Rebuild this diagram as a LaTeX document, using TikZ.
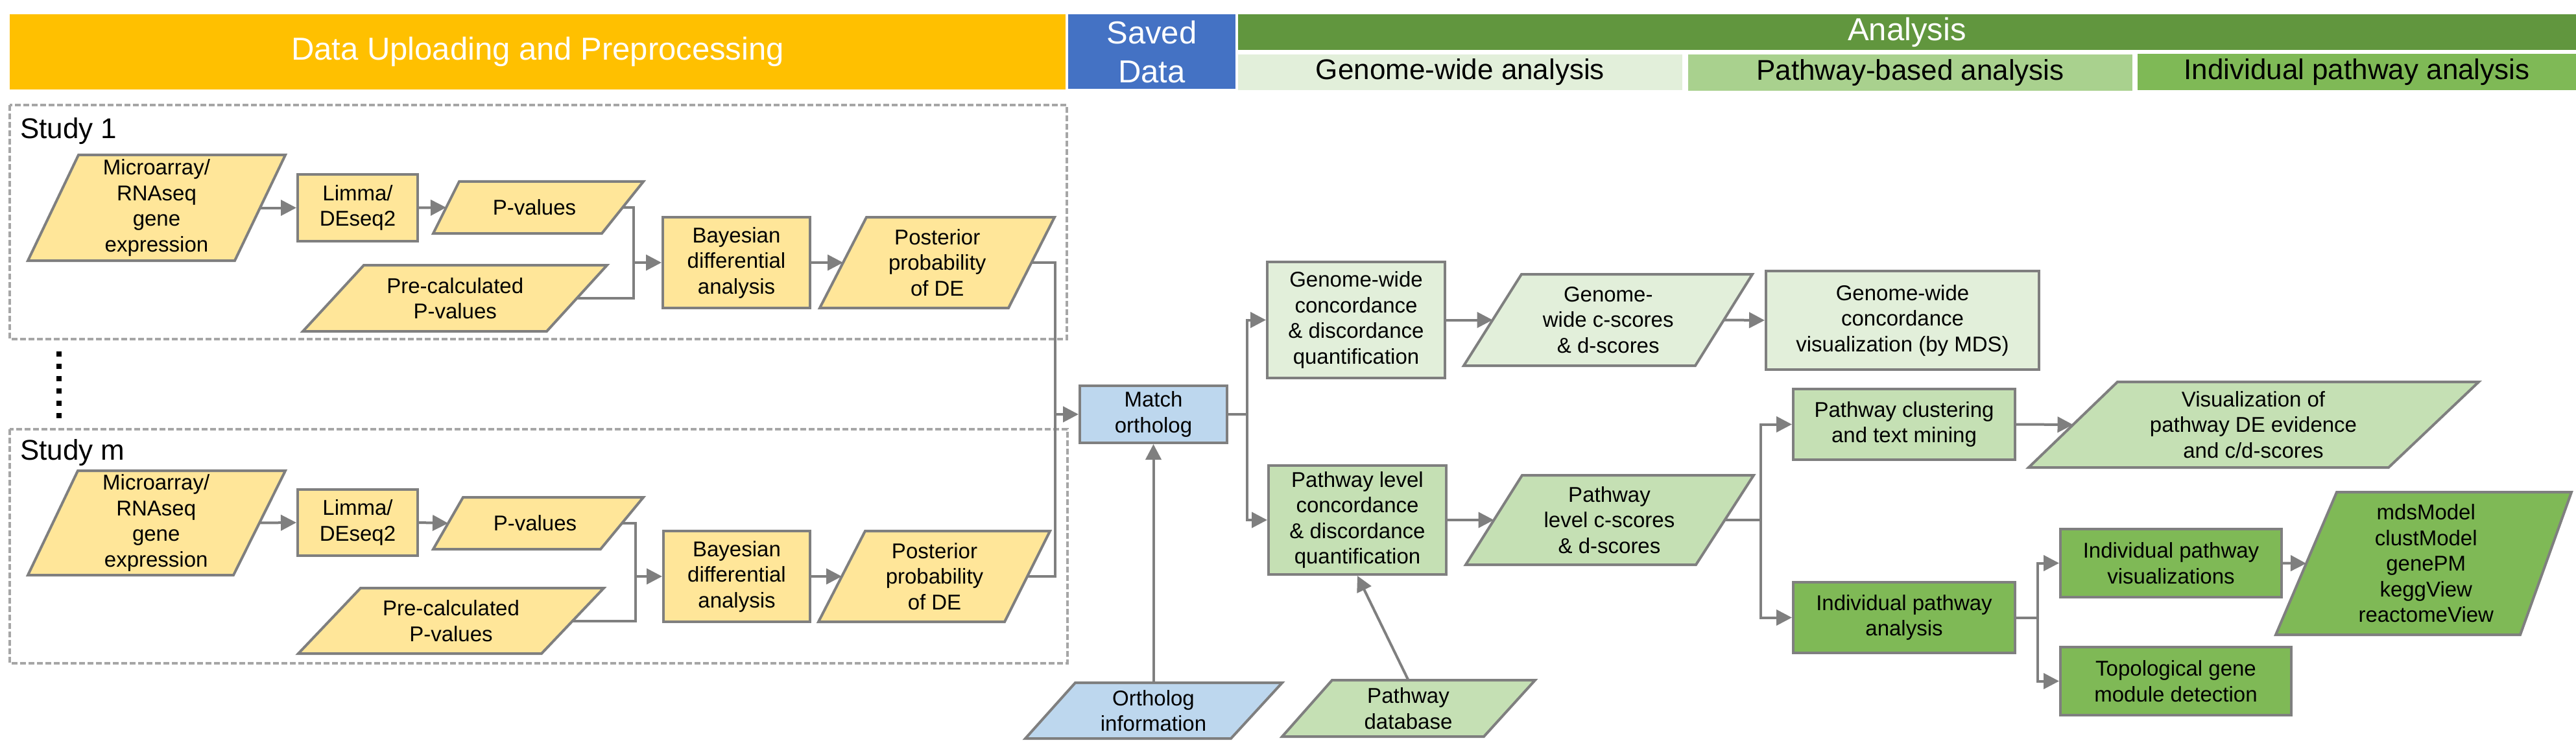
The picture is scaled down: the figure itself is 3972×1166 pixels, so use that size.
\documentclass[tikz,border=0pt]{standalone}
\usepackage{fontspec}
\setmainfont{Liberation Sans}
\usetikzlibrary{calc,backgrounds,arrows.meta}
\definecolor{hdrgold}{HTML}{FFC000}
\definecolor{hdrblue}{HTML}{4472C4}
\definecolor{hdrgreen}{HTML}{61963E}
\definecolor{subgw}{HTML}{E2EFDA}
\definecolor{subpw}{HTML}{A9D18E}
\definecolor{subip}{HTML}{7FB956}
\definecolor{fillyel}{HTML}{FFE699}
\definecolor{fillblue}{HTML}{BDD7EE}
\definecolor{fillgw}{HTML}{E2EFDA}
\definecolor{fillpw}{HTML}{C5E0B4}
\definecolor{fillip}{HTML}{7FB956}
\definecolor{edgegray}{HTML}{7F7F7F}
\definecolor{dashgray}{HTML}{A6A6A6}
\newcommand\myNodeFont{\fontsize{33}{39.5}\selectfont}
\newcommand\myHdrFont{\fontsize{49}{60}\selectfont}
\newcommand\mySubFont{\fontsize{44}{52}\selectfont}
\newcommand\pgram[4]{%
  \draw[draw=edgegray, line width=4pt, fill=#4, line join=miter]
    ($(#1.north west)+(#2/2,0)$) -- ($(#1.north east)+(#3/2,0)$) --
    ($(#1.south east)-(#3/2,0)$) -- ($(#1.south west)-(#2/2,0)$) -- cycle;}
\tikzset{
  boxnode/.style n args={3}{draw=edgegray, line width=4pt, fill=#3,
    minimum width=#1, minimum height=#2, inner sep=0pt, align=center,
    font=\myNodeFont, text=black},
  paranode/.style n args={2}{draw=none, minimum width=#1, minimum height=#2,
    inner sep=0pt, outer sep=0pt, align=center, font=\myNodeFont, text=black},
  hdrnode/.style={draw=none, inner sep=0pt, align=center, font=\myHdrFont, text=white},
  subnode/.style={draw=none, inner sep=0pt, align=center, font=\mySubFont, text=black},
  studylabel/.style={inner sep=0pt, font=\mySubFont, text=black, anchor=base west},
  studybox/.style={draw=dashgray, line width=3.5pt, dash pattern=on 9pt off 4pt},
  conn/.style={draw=edgegray, line width=4pt},
  arr/.style={conn, -{Triangle[length=24pt,width=24pt]}},
}
\begin{document}
\begin{tikzpicture}[x=1pt, y=-1pt]
\useasboundingbox (0,0) rectangle (3972,1166);

% headers
\node[hdrnode, fill=hdrgold, minimum width=1628pt, minimum height=116pt] (hdata) at (829,80) {Data Uploading and Preprocessing};
\node[hdrnode, fill=hdrblue, minimum width=258pt, minimum height=115pt] (hsaved) at (1776,79.5) {Saved\\Data};
\node[hdrnode, fill=hdrgreen, minimum width=2063pt, minimum height=55pt] (hanal) at (2940.5,49.5) {Analysis};
\node[subnode, fill=subgw, minimum width=685pt, minimum height=55pt] (hgw) at (2251.5,111.5) {Genome-wide analysis};
\node[subnode, fill=subpw, minimum width=685pt, minimum height=56pt] (hpw) at (2945.5,112) {Pathway-based analysis};
\node[subnode, fill=subip, minimum width=676pt, minimum height=56pt] (hip) at (3634,111) {Individual pathway analysis};

% study frames
\draw[studybox] (15,162) rectangle (1645,523);
\draw[studybox] (15,662) rectangle (1646,1023);
\node[studylabel] (s1) at (31,214) {Study 1};
\node[studylabel] (sm) at (31,709) {Study m};
\draw[line width=8pt, dash pattern=on 8pt off 11pt] (91,542) -- (91,646);

% study 1
\node[paranode={319pt}{163pt}] (micro1) at (241.5,320.5) {Microarray/\\RNAseq\\gene\\expression};
\node[boxnode={185pt}{103pt}{fillyel}] (limma1) at (551.5,320.5) {Limma/\\DEseq2};
\node[paranode={272pt}{80pt}] (pval1) at (824,320) {P-values};
\node[paranode={375.5pt}{102pt}] (precalc1) at (701.75,460) {Pre-calculated\\P-values};
\node[boxnode={227pt}{140pt}{fillyel}] (bayes1) at (1135.5,405) {Bayesian\\differential\\analysis};
\node[paranode={290.5pt}{140pt}] (post1) at (1445.25,405) {Posterior\\probability\\of DE};

% study m
\node[paranode={318.5pt}{161pt}] (micro2) at (240.75,806.5) {Microarray/\\RNAseq\\gene\\expression};
\node[boxnode={185pt}{102pt}{fillyel}] (limma2) at (551.5,806) {Limma/\\DEseq2};
\node[paranode={268pt}{80pt}] (pval2) at (825,807) {P-values};
\node[paranode={375pt}{101pt}] (precalc2) at (695.5,957.5) {Pre-calculated\\P-values};
\node[boxnode={226pt}{140pt}{fillyel}] (bayes2) at (1136,889) {Bayesian\\differential\\analysis};
\node[paranode={286pt}{140pt}] (post2) at (1441,889) {Posterior\\probability\\of DE};

% saved data
\node[boxnode={227pt}{88pt}{fillblue}] (match) at (1778.5,639) {Match\\ortholog};
\node[paranode={318pt}{86pt}] (ortholog) at (1778.5,1096) {Ortholog\\information};

% analysis
\node[boxnode={274pt}{179pt}{fillgw}] (GWconc) at (2091,493.5) {Genome-wide\\concordance\\\& discordance\\quantification};
\node[paranode={356.5pt}{141pt}] (GWscore) at (2479.75,493.5) {Genome-\\wide c-scores\\\& d-scores};
\node[boxnode={421pt}{152pt}{fillgw}] (GWvis) at (2933.5,494) {Genome-wide\\concordance\\visualization (by MDS)};
\node[boxnode={274pt}{168pt}{fillpw}] (PLconc) at (2093,802) {Pathway level\\concordance\\\& discordance\\quantification};
\node[paranode={356pt}{138pt}] (PLscore) at (2481.5,802) {Pathway\\level c-scores\\\& d-scores};
\node[paranode={312pt}{87pt}] (PWdb) at (2171.5,1092.5) {Pathway\\database};
\node[boxnode={342pt}{109pt}{fillpw}] (clust) at (2936,654.5) {Pathway clustering\\and text mining};
\node[paranode={556pt}{132pt}] (visDE) at (3474.5,655) {Visualization of\\pathway DE evidence\\and c/d-scores};
\node[boxnode={342pt}{109pt}{fillip}] (IPA) at (2936,952.5) {Individual pathway\\analysis};
\node[boxnode={341pt}{105pt}{fillip}] (IPV) at (3347.5,868.5) {Individual pathway\\visualizations};
\node[boxnode={356pt}{105pt}{fillip}] (topo) at (3355,1050.5) {Topological gene\\module detection};
\node[paranode={369.5pt}{220pt}] (mds) at (3740.75,869) {mdsModel\\clustModel\\genePM\\keggView\\reactomeView};

% parallelogram outlines
\begin{scope}[on background layer]
\pgram{micro1}{78}{78}{fillyel}
\pgram{pval1}{40}{64}{fillyel}
\pgram{precalc1}{94}{93}{fillyel}
\pgram{post1}{72}{71}{fillyel}
\pgram{micro2}{77}{80}{fillyel}
\pgram{pval2}{46}{66}{fillyel}
\pgram{precalc2}{96}{96}{fillyel}
\pgram{post2}{72}{70}{fillyel}
\pgram{ortholog}{77}{79}{fillblue}
\pgram{GWscore}{89}{88}{fillgw}
\pgram{PLscore}{87}{89}{fillpw}
\pgram{PWdb}{77}{79}{fillpw}
\pgram{visDE}{137}{139}{fillpw}
\pgram{mds}{94}{79}{fillip}
\end{scope}

% connectors study 1
\draw[arr] (micro1.east) -- (limma1.west);
\draw[arr] (limma1.east) -- (pval1.west);
\coordinate (j1) at ($(bayes1.west)+(-43,0)$);
\draw[conn] (pval1.east) -| (j1);
\draw[conn] (precalc1.east) -| (j1);
\draw[arr] (j1) -- (bayes1.west);
\draw[arr] (bayes1.east) -- (post1.west);

% connectors study m
\draw[arr] (micro2.east) -- (limma2.west);
\draw[arr] (limma2.east) -- (pval2.west);
\coordinate (j2) at ($(bayes2.west)+(-41,0)$);
\draw[conn] (pval2.east) -| (j2);
\draw[conn] (precalc2.east) -| (j2);
\draw[arr] (j2) -- (bayes2.west);
\draw[arr] (bayes2.east) -- (post2.west);

% to match ortholog
\coordinate (j3) at ($(match.west)+(-36,0)$);
\draw[conn] (post1.east) -| (j3);
\draw[conn] (post2.east) -| (j3);
\draw[arr] (j3) -- (match.west);
\draw[arr] (ortholog.north) -- (match.south);

% analysis connectors
\draw[arr] (match.east) -- ++(29,0) |- (GWconc.west);
\draw[arr] (match.east) -- ++(29,0) |- (PLconc.west);
\draw[arr] (GWconc.east) -- (GWscore.west);
\draw[arr] (GWscore.east) -- (GWvis.west);
\draw[arr] (PLconc.east) -- (PLscore.west);
\draw[arr] (PWdb.north) -- (PLconc.south);
\draw[arr] (PLscore.east) -- ++(55,0) |- (clust.west);
\draw[arr] (PLscore.east) -- ++(55,0) |- (IPA.west);
\draw[arr] (clust.east) -- (visDE.west);
\draw[arr] (IPA.east) -- ++(33,0) |- (IPV.west);
\draw[arr] (IPA.east) -- ++(33,0) |- (topo.west);
\draw[arr] (IPV.east) -- (mds.west);
\end{tikzpicture}
\end{document}
